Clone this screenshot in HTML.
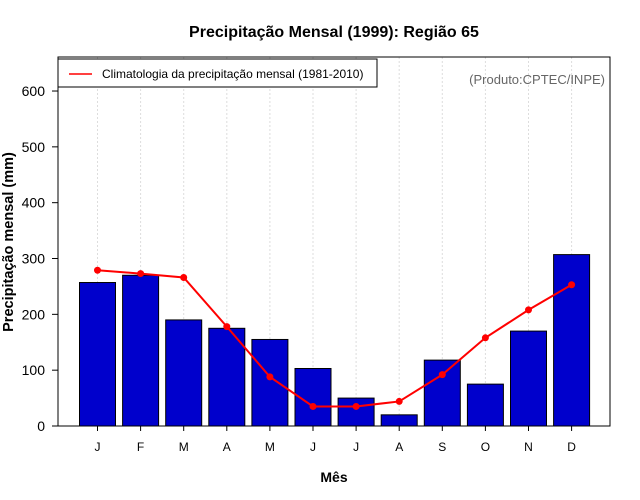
<!DOCTYPE html>
<html><head><meta charset="utf-8"><style>body{margin:0;background:#fff}svg{display:block;font-family:"Liberation Sans",sans-serif}</style></head>
<body>
<svg id="chart" width="640" height="500" viewBox="0 0 640 500">
<rect width="640" height="500" fill="#fff"/>
<text x="334" y="37" text-anchor="middle" font-size="16" font-weight="bold">Precipitação Mensal (1999): Região 65</text>
<text x="334" y="482" text-anchor="middle" font-size="14" font-weight="bold">Mês</text>
<text transform="translate(13,242) rotate(-90)" text-anchor="middle" font-size="14.5" font-weight="bold">Precipitação mensal (mm)</text>
<g id="grid"></g><g id="bars"></g><g id="line"></g><g id="axes"></g>
<rect x="58" y="57" width="552" height="369" fill="none" stroke="#000"/>
<g>
<rect x="58" y="59" width="319" height="28" fill="#fff" stroke="#000"/>
<line x1="69" y1="74" x2="92" y2="74" stroke="red" stroke-width="1.5"/>
<text x="102" y="78" font-size="12">Climatologia da precipitação mensal (1981-2010)</text>
</g>
<text x="605" y="84" text-anchor="end" font-size="13" fill="#666">(Produto:CPTEC/INPE)</text>
</svg>
<script>
const months=["J","F","M","A","M","J","J","A","S","O","N","D"];
const observed=[257,270,190,175,155,103,50,20,118,75,170,307];
const climatology=[279,273,266,178,88,35,35,44,92,158,208,253];
const yTicks=[0,100,200,300,400,500,600];
const NS="http://www.w3.org/2000/svg";
function x(i){return 97.5+i*43.1;}
function y(v){return 426-v*0.5583;}
function mk(t,a,p){const e=document.createElementNS(NS,t);for(const k in a)e.setAttribute(k,a[k]);p.appendChild(e);return e;}
const grid=document.getElementById('grid'),bars=document.getElementById('bars'),line=document.getElementById('line'),axes=document.getElementById('axes');
months.forEach((m,i)=>{
 const g=mk('line',{x1:x(i),x2:x(i),y1:57,y2:426,stroke:'#ddd','stroke-dasharray':'2,2'},grid);
 
 
 const b=mk('rect',{x:x(i)-18,y:y(observed[i]),width:36,height:426-y(observed[i]),fill:'#0000cc',stroke:'#000'},bars);
 
 
 const t=mk('line',{x1:x(i),x2:x(i),y1:426,y2:431,stroke:'#000'},axes);
 
 
 const l=mk('text',{x:x(i),y:451,'text-anchor':'middle','font-size':'12'},axes);
 l.textContent=m;
 
 
});
const pl=mk('polyline',{points:climatology.map((v,i)=>x(i)+','+y(v)).join(' '),fill:'none',stroke:'red','stroke-width':'2'},line);


climatology.forEach((v,i)=>{
 const c=mk('circle',{cx:x(i),cy:y(v),r:3.5,fill:'red'},line);
 
 
});
yTicks.forEach(v=>{
 const t=mk('line',{x1:52,x2:58,y1:y(v),y2:y(v),stroke:'#000'},axes);
 
 
 const l=mk('text',{x:45,y:y(v)+5,'text-anchor':'end','font-size':'14'},axes);
 l.textContent=v;
 
 
});
</script>
</body></html>
